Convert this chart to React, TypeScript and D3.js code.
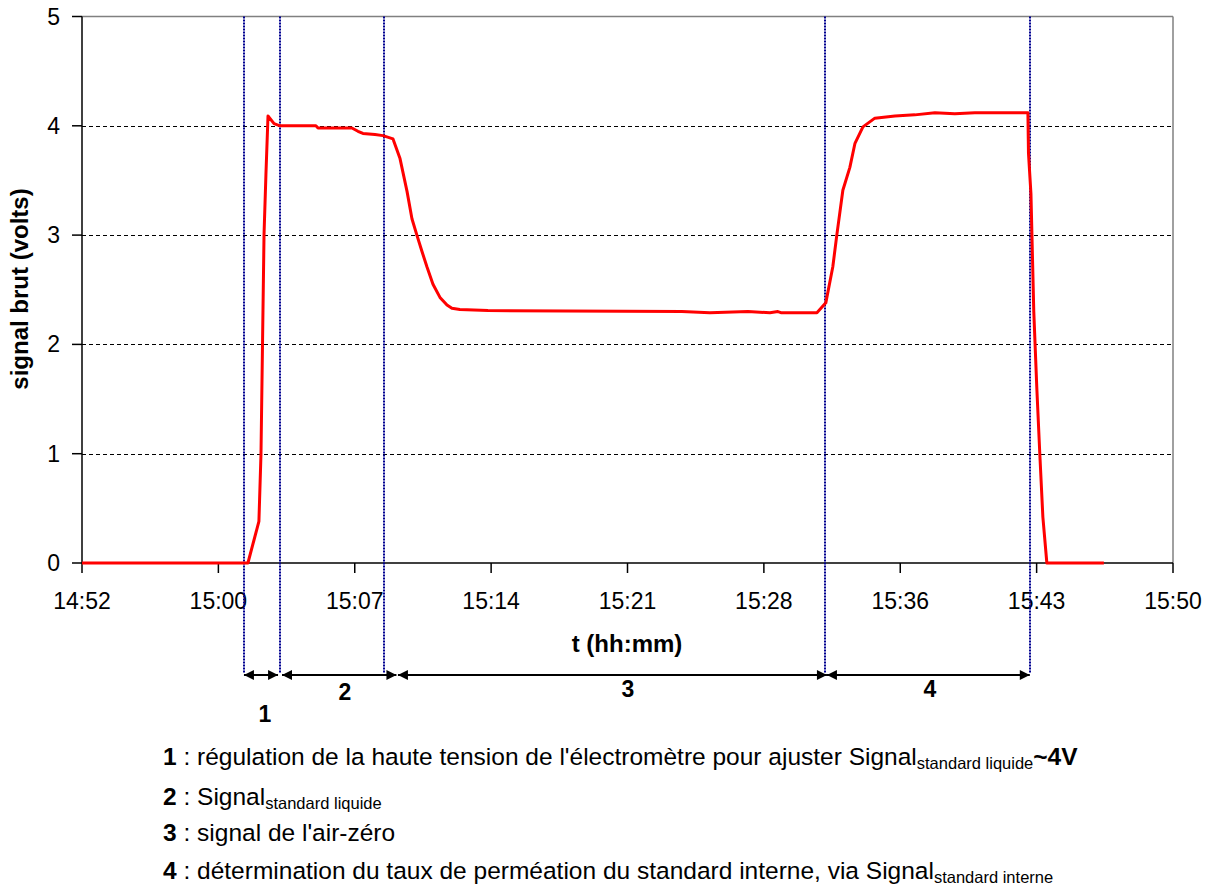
import React from "react";
import * as d3 from "d3";

// time in minutes after 14:00
const signalTime = [52.4, 61.16, 61.74, 61.85, 62.01, 62.11, 62.22, 62.54, 62.85, 64.75, 64.86, 66.65, 66.97, 67.23, 67.87, 68.29, 68.82, 69.19, 69.56, 69.82, 70.08, 70.35, 70.61, 70.93, 71.3, 71.67, 71.93, 72.35, 73.83, 84.07, 85.55, 87.56, 88.72, 89.14, 89.3, 91.2, 91.67, 92.04, 92.25, 92.57, 92.94, 93.21, 93.63, 94.26, 95.32, 96.37, 97.43, 98.48, 99.54, 102.34, 102.37, 102.5, 102.65, 102.81, 102.97, 103.13, 103.34, 106.35];
const signalVolts = [0, 0, 0.38, 1.0, 3.0, 3.55, 4.09, 4.02, 4.0, 4.0, 3.98, 3.98, 3.95, 3.93, 3.92, 3.91, 3.88, 3.7, 3.4, 3.15, 3.0, 2.85, 2.71, 2.55, 2.43, 2.36, 2.33, 2.32, 2.31, 2.3, 2.29, 2.3, 2.29, 2.3, 2.29, 2.29, 2.38, 2.71, 3.0, 3.41, 3.62, 3.84, 3.99, 4.07, 4.09, 4.1, 4.12, 4.11, 4.12, 4.12, 3.75, 3.38, 2.3, 1.6, 0.99, 0.42, 0, 0];

const xTickValues = [52.4, 59.6, 66.8, 74.0, 81.2, 88.4, 95.6, 102.8, 110.0];
const xTickLabels = ["14:52", "15:00", "15:07", "15:14", "15:21", "15:28", "15:36", "15:43", "15:50"];
const yTickValues = [0, 1, 2, 3, 4, 5];

const phaseBoundaries = [60.95, 62.85, 68.34, 91.62, 102.44];
const arrowStarts = [60.95, 62.96, 69.08, 91.73];
const arrowEnds = [62.75, 69.0, 91.73, 102.44];
const arrowLabels = ["1", "2", "3", "4"];
const arrowLabelTimes = [62.06, 66.28, 81.22, 97.16];

const legendNumbers = ["1", "2", "3", "4"];
const legendTexts = [
  " : régulation de la haute tension de l'électromètre pour ajuster Signal",
  " : Signal",
  " : signal de l'air-zéro",
  " : détermination du taux de perméation du standard interne, via Signal",
];
const legendSubs = ["standard liquide", "standard liquide", "", "standard interne"];
const legendTails = ["~4V", "", "", ""];

const FONT = "'Liberation Sans', Arial, sans-serif";

export default function App() {
  const W = 1212, H = 886;
  const left = 82, right = 1173, top = 16.5, bottom = 563;
  const x = d3.scaleLinear().domain([52.4, 110.0]).range([left, right]);
  const y = d3.scaleLinear().domain([0, 5]).range([bottom, top]);
  const line = d3.line<number>().x((_, i) => x(signalTime[i])).y((v) => y(v));
  const arrowY = 675;
  const legendBaselines = [765, 805, 841, 879];
  const arrowLabelBaselines = [722, 700, 697, 697];

  return (
    <svg width={W} height={H} style={{ position: "absolute", left: 0, top: 0, background: "#fff" }}>
      <defs>
        <marker id="ah" viewBox="0 0 10 10" refX="10" refY="5" markerWidth="12" markerHeight="10" markerUnits="userSpaceOnUse" orient="auto-start-reverse">
          <path d="M0,0 L10,5 L0,10 z" fill="#000" />
        </marker>
      </defs>
      {/* gridlines */}
      {yTickValues.filter((v) => v > 0 && v < 5).map((v) => (
        <line key={v} x1={left} x2={right} y1={Math.round(y(v)) + 0.5} y2={Math.round(y(v)) + 0.5} stroke="#000" strokeWidth={1} strokeDasharray="4,3" />
      ))}
      {/* frame */}
      <line x1={left} x2={right} y1={top} y2={top} stroke="#808080" strokeWidth={1.5} />
      <line x1={right} x2={right} y1={top} y2={bottom} stroke="#808080" strokeWidth={1.5} />
      <line x1={left} x2={left} y1={top} y2={bottom} stroke="#000" strokeWidth={1.5} />
      <line x1={left} x2={right} y1={bottom} y2={bottom} stroke="#000" strokeWidth={1.5} />
      {/* y ticks */}
      {yTickValues.map((v) => (
        <g key={v}>
          <line x1={left - 10} x2={left} y1={y(v)} y2={y(v)} stroke="#000" strokeWidth={1.5} />
          <text x={60} y={y(v) + 8} textAnchor="end" fontFamily={FONT} fontSize={23} fill="#000">{v}</text>
        </g>
      ))}
      {/* x ticks */}
      {xTickValues.map((v, i) => (
        <g key={v}>
          <line x1={x(v)} x2={x(v)} y1={bottom} y2={bottom + 10} stroke="#000" strokeWidth={1.5} />
          <text x={x(v)} y={609} textAnchor="middle" fontFamily={FONT} fontSize={23} fill="#000">{xTickLabels[i]}</text>
        </g>
      ))}
      {/* axis titles */}
      <text transform="translate(28,289) rotate(-90)" textAnchor="middle" fontFamily={FONT} fontWeight="bold" fontSize={24} fill="#000">signal brut (volts)</text>
      <text x={627} y={652} textAnchor="middle" fontFamily={FONT} fontWeight="bold" fontSize={24} fill="#000">t (hh:mm)</text>
      {/* phase boundaries */}
      {phaseBoundaries.map((t) => (
        <line key={t} x1={Math.round(x(t))} x2={Math.round(x(t))} y1={top} y2={arrowY - 2} stroke="#00008f" strokeWidth={2} strokeDasharray="2,1" />
      ))}
      {/* signal */}
      <path d={line(signalVolts) || ""} fill="none" stroke="#ff0000" strokeWidth={3} strokeLinejoin="round" />
      {/* arrows */}
      {arrowStarts.map((s, i) => (
        <g key={i}>
          <line x1={x(s)} x2={x(arrowEnds[i])} y1={arrowY} y2={arrowY} stroke="#000" strokeWidth={2} markerStart="url(#ah)" markerEnd="url(#ah)" />
          <text x={x(arrowLabelTimes[i])} y={arrowLabelBaselines[i]} textAnchor="middle" fontFamily={FONT} fontWeight="bold" fontSize={23} fill="#000">{arrowLabels[i]}</text>
        </g>
      ))}
      {/* legend */}
      {legendNumbers.map((n, i) => (
        <text key={n} x={163} y={legendBaselines[i]} fontFamily={FONT} fontSize={24.5} fill="#000">
          <tspan fontWeight="bold">{n}</tspan>
          <tspan>{legendTexts[i]}</tspan>
          {legendSubs[i] ? <tspan fontSize={16.5} dy={4}>{legendSubs[i]}</tspan> : null}
          {legendTails[i] ? <tspan fontWeight="bold" dy={-4}>{legendTails[i]}</tspan> : null}
        </text>
      ))}
    </svg>
  );
}
